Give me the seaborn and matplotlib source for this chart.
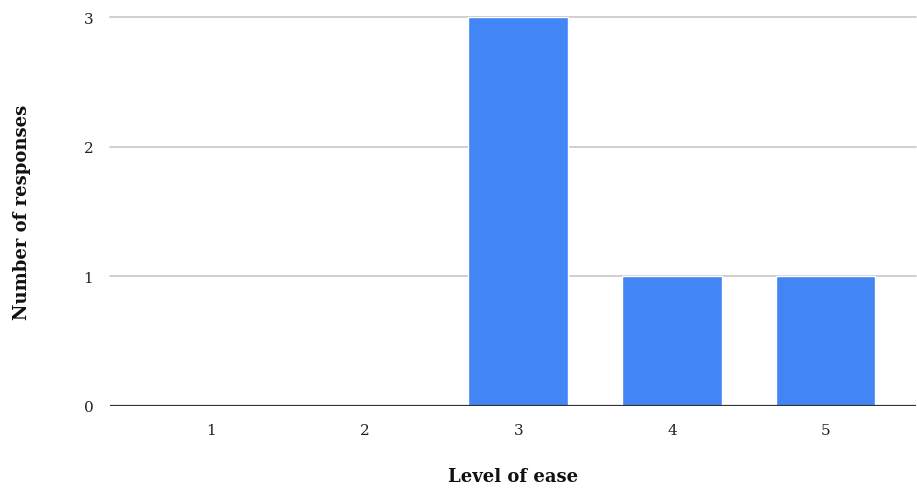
import matplotlib
matplotlib.use("Agg")
import matplotlib.pyplot as plt
import seaborn as sns
import pandas as pd

levels = ["1", "2", "3", "4", "5"]
responses = [0, 0, 3, 1, 1]
y_ticks = [0, 1, 2, 3]

sns.set_theme(style="white")
plt.rcParams["font.family"] = ["DejaVu Serif", "Liberation Serif"]

df = pd.DataFrame({"level": levels, "count": responses})

fig = plt.figure(figsize=(9.17, 4.89), dpi=100)
ax = fig.add_axes([110 / 917, 1 - 407 / 489, 806 / 917, 389 / 489])

sns.barplot(data=df, x="level", y="count", color="#4285F4", saturation=1,
            width=0.65, ax=ax, zorder=3)

ax.set_xlim(-0.66, 4.59)
ax.set_ylim(0, 3)
ax.set_yticks(y_ticks)
for v in y_ticks[1:]:
    ax.axhline(v, color="#cccccc", lw=1.3, zorder=1, clip_on=False)
ax.axhline(0, color="#333333", lw=1.6, zorder=4)

for s in ax.spines.values():
    s.set_visible(False)
ax.tick_params(axis="both", length=0, labelsize=11, colors="#222222")
ax.tick_params(axis="y", pad=12)
ax.tick_params(axis="x", pad=12)

ax.set_xlabel("Level of ease", fontsize=13, fontweight="bold", labelpad=22, color="#111111")
ax.set_ylabel("Number of responses", fontsize=13, fontweight="bold", labelpad=38, color="#111111")

fig.savefig("out.png", dpi=100)
